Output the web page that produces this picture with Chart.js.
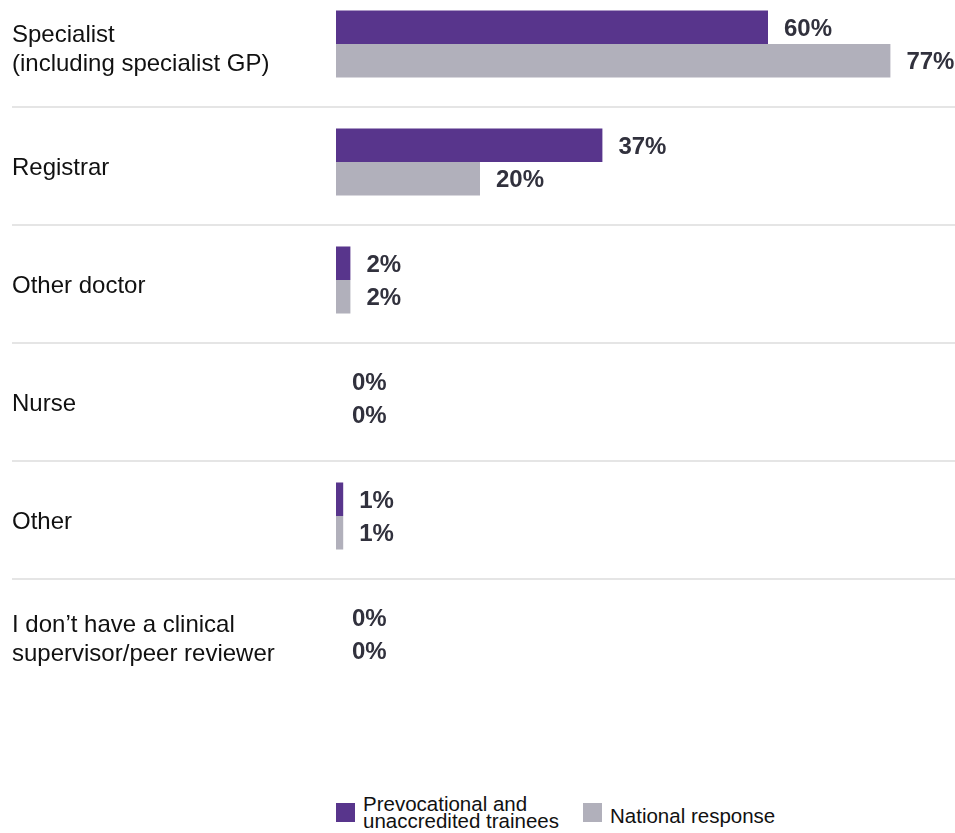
<!DOCTYPE html>
<html>
<head>
<meta charset="utf-8">
<script src="https://cdn.jsdelivr.net/npm/chart.js@4.4.1/dist/chart.umd.min.js"></script>
<style>
    body { margin: 0; background: #fff; font-family: Arial, "Liberation Sans", sans-serif; }
    #wrap { position: relative; width: 955px; height: 833px; overflow: hidden; }
    #chart-holder { position: absolute; left: 0; top: -15px; }
    #legend { position: absolute; left: 336px; top: 795px; display: flex; align-items: center; }
    .item { display: flex; align-items: center; margin-right: 24px; }
    .box { width: 19px; height: 19px; margin-right: 8px; }
    .txt { font-size: 20.5px; line-height: 17px; color: #111; position: relative; }
</style>
</head>
<body>
<div id="wrap">
    <div id="chart-holder">
        <canvas id="bar-chart-supervisor" width="955" height="708"></canvas>
    </div>
    <div id="legend"></div>
</div>
<script>
// data
var categories = [
    ["Specialist", "(including specialist GP)"],
    "Registrar",
    "Other doctor",
    "Nurse",
    "Other",
    ["I don\u2019t have a clinical", "supervisor/peer reviewer"]
];
var seriesNames = [["Prevocational and", "unaccredited trainees"], ["National response"]];
var prevocational = [60, 37, 2, 0, 1, 0];
var national = [77, 20, 2, 0, 1, 0];
var colors = ["#58358c", "#b1b0bb"];

// separators between rows, across the whole width
// (bars sit a little above the middle of each row, so lines go 4px lower)
var rowLines = {
    id: 'rowLines',
    beforeDatasetsDraw: function (chart) {
        var ctx = chart.ctx;
        var y = chart.scales.y;
        ctx.save();
        ctx.strokeStyle = '#dddddd';
        ctx.lineWidth = 1.5;
        for (var i = 0; i < categories.length - 1; i++) {
            var py = (y.getPixelForValue(i) + y.getPixelForValue(i + 1)) / 2 + 4;
            ctx.beginPath();
            ctx.moveTo(12, py);
            ctx.lineTo(chart.width, py);
            ctx.stroke();
        }
        ctx.restore();
    }
};

// % labels at end of each bar
var valueLabels = {
    id: 'valueLabels',
    afterDatasetsDraw: function (chart) {
        var ctx = chart.ctx;
        ctx.save();
        ctx.font = 'bold 24px Arial, "Liberation Sans", sans-serif';
        ctx.fillStyle = '#31313d';
        ctx.textAlign = 'left';
        ctx.textBaseline = 'middle';
        chart.data.datasets.forEach(function (ds, di) {
            chart.getDatasetMeta(di).data.forEach(function (bar, i) {
                ctx.fillText(ds.data[i] + '%', bar.x + 16, bar.y + 2);
            });
        });
        ctx.restore();
    }
};

new Chart(document.getElementById("bar-chart-supervisor"), {
    type: 'bar',
    data: {
        labels: categories,
        datasets: [
            {
                label: seriesNames[0].join(' '),
                backgroundColor: colors[0],
                data: prevocational
            },
            {
                label: seriesNames[1].join(' '),
                backgroundColor: colors[1],
                data: national
            }
        ]
    },
    options: {
        indexAxis: 'y',
        responsive: false,
        animation: false,
        devicePixelRatio: 1,
        layout: {
            padding: { left: 12, right: 43, top: 0, bottom: 0 }
        },
        datasets: {
            bar: { categoryPercentage: 0.568, barPercentage: 1.0 }
        },
        scales: {
            x: {
                display: false,
                min: 0,
                max: 80
            },
            y: {
                grid: { display: false },
                border: { display: false },
                ticks: {
                    crossAlign: 'far',
                    labelOffset: 6,
                    color: '#111111',
                    font: { family: 'Arial, "Liberation Sans", sans-serif', size: 24, lineHeight: 1.2 }
                },
                afterFit: function (scale) {
                    // fixed label column, no extra room for first/last label
                    scale.width = 324;
                    scale.paddingTop = 0;
                    scale.paddingBottom = 0;
                }
            }
        },
        plugins: {
            legend: { display: false },
            tooltip: { enabled: false }
        }
    },
    plugins: [rowLines, valueLabels]
});

// legend underneath
var legend = document.getElementById('legend');
seriesNames.forEach(function (name, i) {
    var item = document.createElement('div');
    item.className = 'item';
    var box = document.createElement('div');
    box.className = 'box';
    box.style.background = colors[i];
    var txt = document.createElement('div');
    txt.className = 'txt';
    txt.innerHTML = name.join('<br>');
    if (name.length === 1) txt.style.top = '3px';
    item.appendChild(box);
    item.appendChild(txt);
    legend.appendChild(item);
});
</script>
</body>
</html>
